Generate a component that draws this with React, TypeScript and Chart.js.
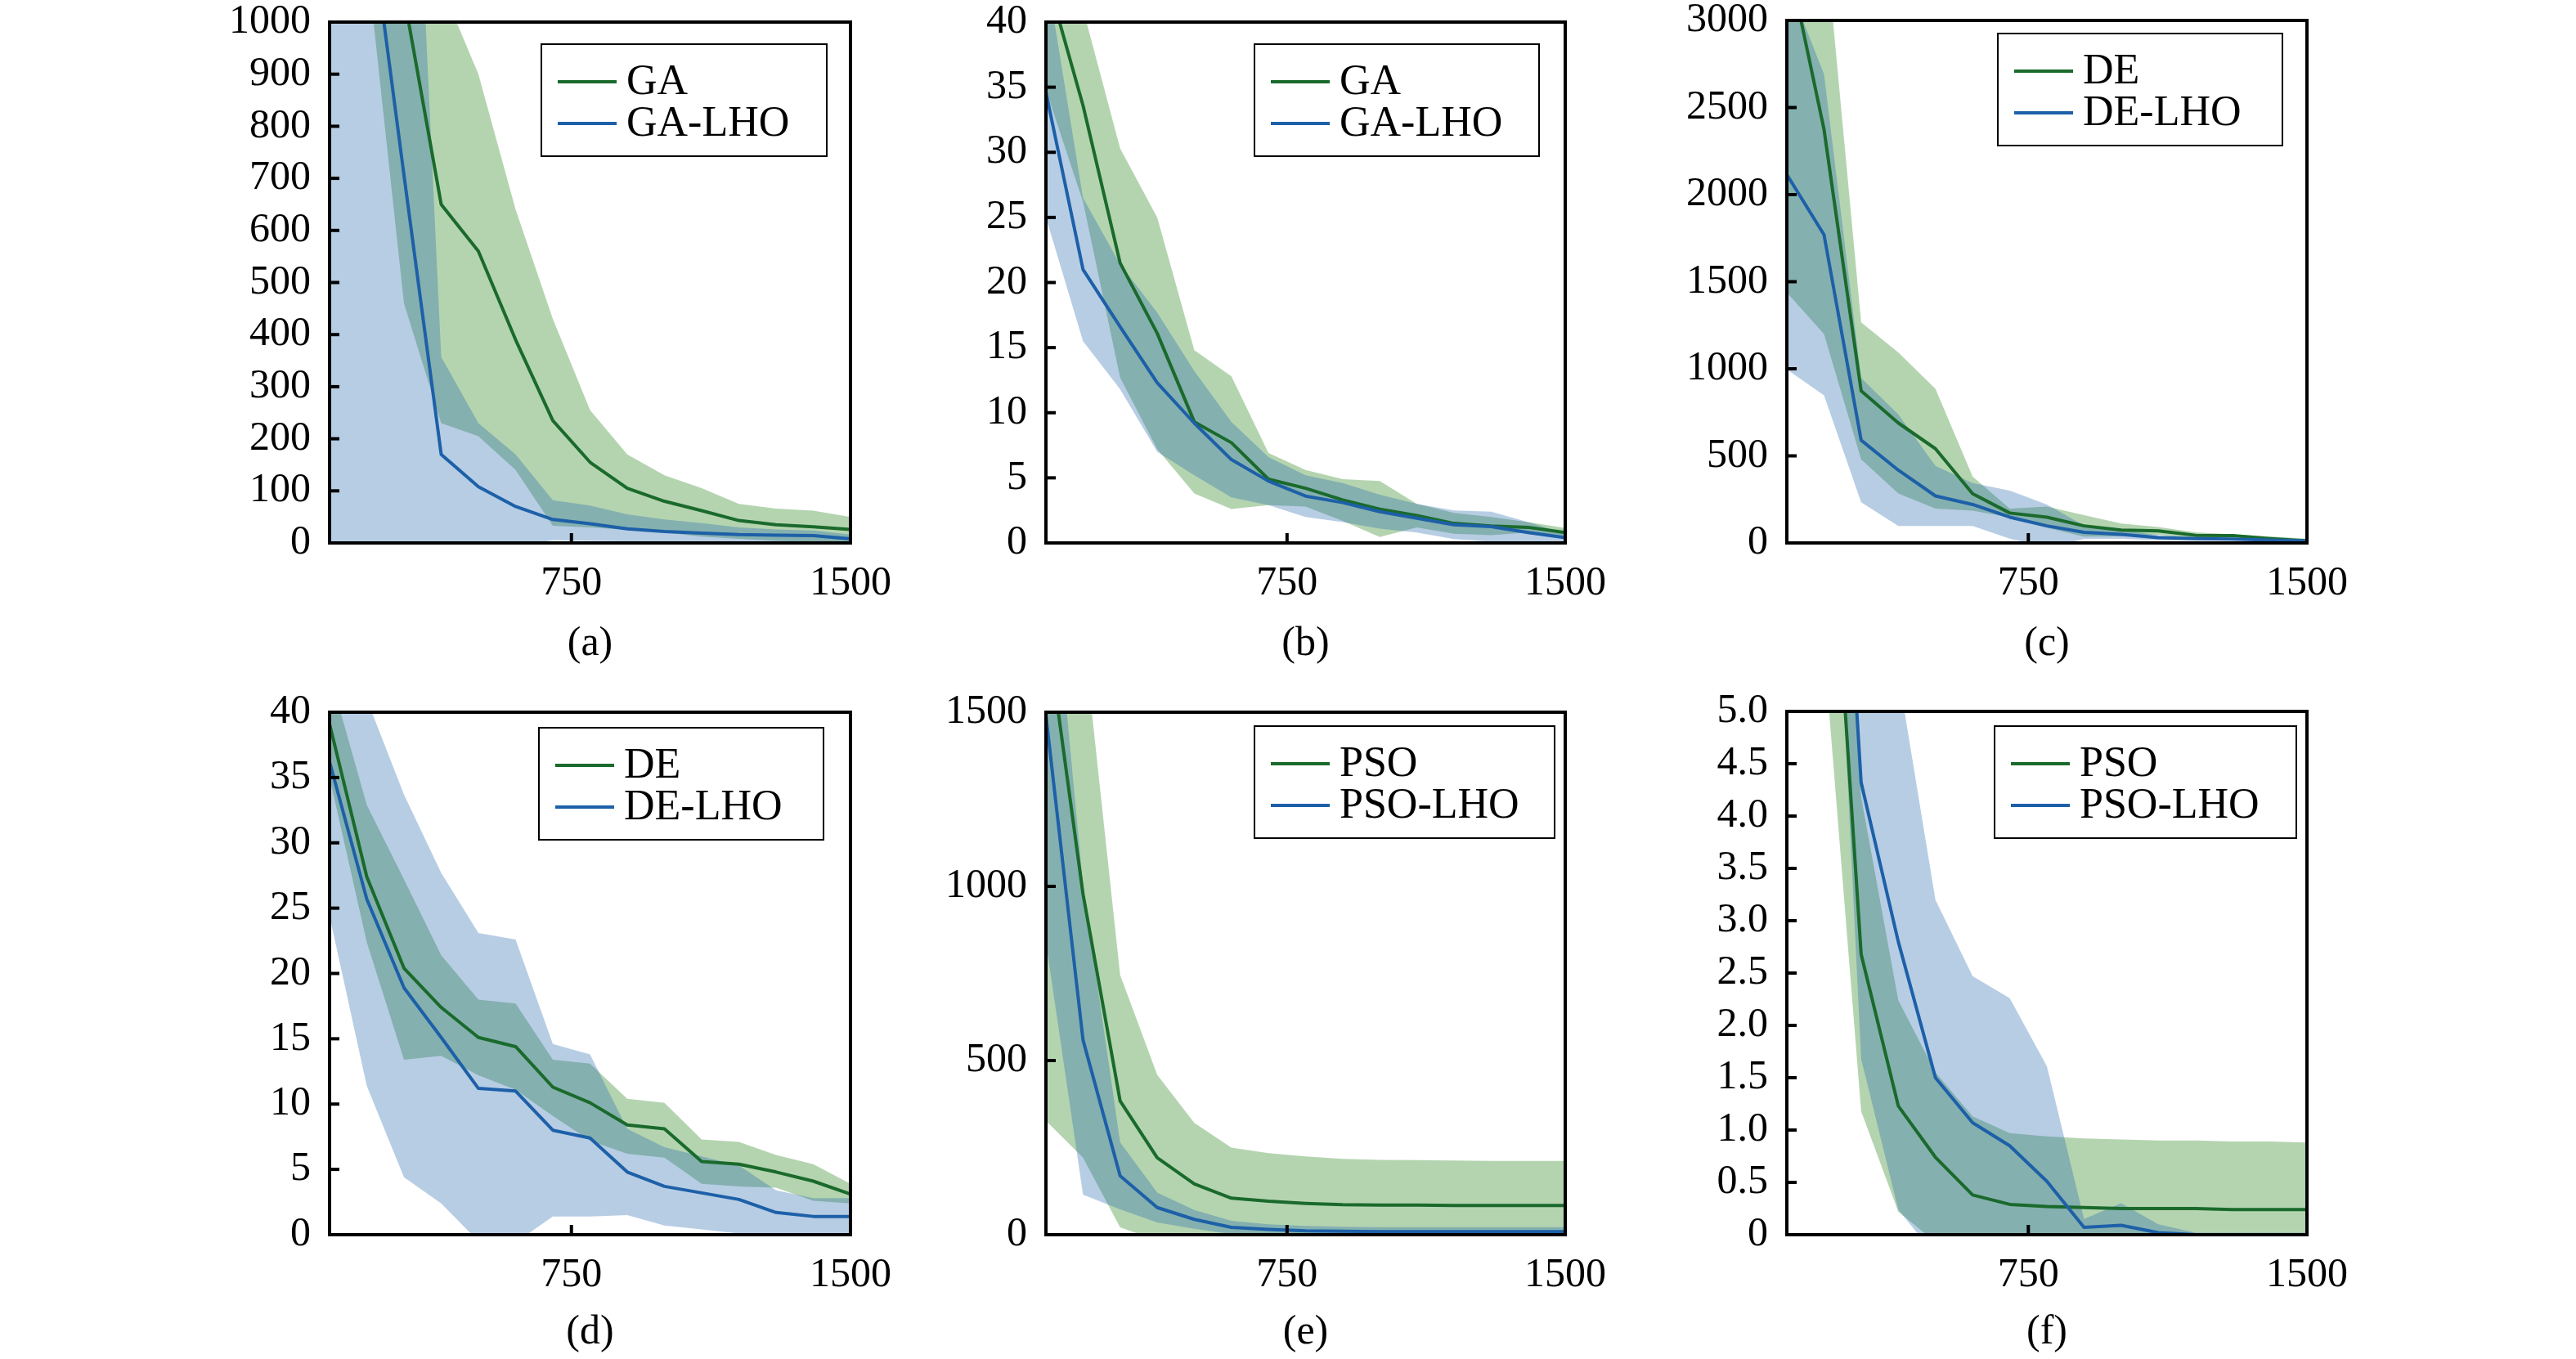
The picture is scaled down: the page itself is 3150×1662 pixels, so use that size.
import React, { useEffect, useRef } from 'react';
import { Chart, registerables } from 'chart.js';

Chart.register(...registerables);

const FONT = '"Liberation Serif", "Times New Roman", Times, serif';

// ---------- shared axis data ----------
const xSteps = [100, 200, 300, 400, 500, 600, 700, 800, 900, 1000, 1100, 1200, 1300, 1400, 1500];
const xTickValues = [750, 1500];

// ---------- (a) GA vs GA-LHO ----------
const aBaseMean = [5000, 2200, 1050, 650, 560, 390, 235, 155, 105, 80, 62, 43, 35, 31, 26];
const aBaseUpper = [8600, 3280, 1640, 1070, 900, 640, 430, 255, 170, 130, 105, 75, 66, 62, 50];
const aBaseLower = [1400, 1120, 460, 230, 205, 140, 33, 30, 25, 20, 12, 8, 4, 2, 2];
const aLhoMean = [3000, 1250, 706, 170, 108, 70, 45, 37, 27, 22, 19, 16, 15, 14, 8];
const aLhoUpper = [6000, 3000, 1890, 357, 230, 170, 82, 72, 55, 45, 38, 30, 26, 24, 16];
const aLhoLower = [-2000, -500, -480, -20, -10, -5, 5, 4, 3, 2, 1, 1, 1, 1, 0];

// ---------- (b) GA vs GA-LHO ----------
const bBaseMean = [43.7, 33.6, 21.5, 16.1, 9.3, 7.7, 4.9, 4.2, 3.3, 2.6, 2.1, 1.5, 1.3, 1.2, 0.8];
const bBaseUpper = [52.6, 41, 30.3, 25, 14.8, 12.8, 6.9, 5.6, 4.9, 4.75, 3.0, 2.3, 2.0, 1.6, 1.15];
const bBaseLower = [34.8, 26.2, 12.7, 7.2, 3.8, 2.6, 2.9, 2.8, 1.7, 0.45, 1.2, 0.7, 0.6, 0.8, 0.45];
const bLhoMean = [34.6, 21, 16.6, 12.3, 9.2, 6.4, 4.75, 3.6, 3.1, 2.4, 1.9, 1.4, 1.25, 0.8, 0.4];
const bLhoUpper = [44, 26.5, 21.4, 17.7, 13.2, 9.3, 6.6, 5.2, 4.6, 3.7, 3.0, 2.5, 2.4, 1.6, 0.7];
const bLhoLower = [25, 15.5, 11.8, 7, 5.2, 3.5, 2.9, 2.0, 1.6, 1.1, 0.8, 0.3, 0.1, 0, 0.1];

// ---------- (c) DE vs DE-LHO ----------
const cBaseMean = [3384, 2375, 873, 689, 541, 283, 172, 148, 98, 74, 69, 44, 42, 25, 12];
const cBaseUpper = [5330, 3550, 1266, 1094, 885, 381, 197, 209, 160, 111, 91, 61, 49, 37, 25];
const cBaseLower = [1438, 1200, 480, 284, 197, 185, 147, 87, 36, 37, 47, 27, 35, 13, 0];
const cLhoMean = [2115, 1770, 590, 418, 270, 221, 148, 98, 61, 49, 30, 25, 22, 17, 12];
const cLhoUpper = [3234, 2692, 947, 738, 442, 344, 300, 221, 100, 75, 45, 35, 30, 24, 17];
const cLhoLower = [996, 848, 233, 98, 98, 98, 25, -25, 22, 23, 15, 15, 14, 10, 7];

// ---------- (d) DE vs DE-LHO ----------
const dBaseMean = [39.1, 27.4, 20.4, 17.4, 15.1, 14.4, 11.3, 10.1, 8.4, 8.1, 5.6, 5.4, 4.8, 4.1, 3.1];
const dBaseUpper = [43, 32.9, 27.2, 21.4, 18.0, 17.7, 13.4, 13.1, 10.4, 10.1, 7.3, 7.1, 6.1, 5.4, 3.9];
const dBaseLower = [35, 22.4, 13.4, 13.7, 12.2, 11.1, 9.1, 7.2, 6.2, 5.9, 3.9, 3.7, 3.6, 2.6, 2.4];
const dLhoMean = [36.2, 25.7, 18.9, 15.1, 11.2, 11.0, 8.0, 7.4, 4.8, 3.7, 3.2, 2.7, 1.7, 1.4, 1.4];
const dLhoUpper = [48, 41, 33.7, 27.7, 23.1, 22.6, 14.6, 13.8, 8.1, 6.7, 6.0, 5.3, 3.4, 2.8, 2.8];
const dLhoLower = [24.4, 11.4, 4.4, 2.4, -0.5, -0.6, 1.4, 1.4, 1.5, 0.7, 0.4, 0.1, 0, 0, 0];

// ---------- (e) PSO vs PSO-LHO ----------
const eBaseMean = [1761, 978, 384, 221, 146, 105, 96, 90, 86, 85, 85, 84, 84, 84, 84];
const eBaseUpper = [3195, 1735, 746, 459, 321, 250, 234, 225, 218, 215, 214, 213, 212, 212, 212];
const eBaseLower = [327, 221, 21, -17, -29, -40, -42, -45, -46, -45, -44, -45, -44, -44, -44];
const eLhoMean = [1490, 559, 169, 78, 44, 21, 15, 11, 10, 9, 9, 9, 9, 9, 9];
const eLhoUpper = [2140, 1003, 265, 121, 71, 40, 30, 25, 23, 22, 22, 22, 22, 22, 22];
const eLhoLower = [840, 115, 73, 35, 17, 2, 0, -3, -3, -4, -4, -4, -4, -4, -4];

// ---------- (f) PSO vs PSO-LHO ----------
const fBaseMean = [30, 8.1, 2.68, 1.23, 0.74, 0.38, 0.29, 0.27, 0.26, 0.25, 0.25, 0.25, 0.24, 0.24, 0.24];
const fBaseUpper = [40, 10.6, 4.18, 2.24, 1.55, 1.13, 0.97, 0.94, 0.92, 0.91, 0.9, 0.9, 0.89, 0.89, 0.88];
const fBaseLower = [20, 5.61, 1.18, 0.22, -0.07, -0.37, -0.39, -0.4, -0.4, -0.41, -0.4, -0.4, -0.41, -0.41, -0.4];
const fLhoMean = [25, 10.1, 4.32, 2.8, 1.5, 1.07, 0.85, 0.51, 0.07, 0.09, 0.02, 0, 0, 0, 0];
const fLhoUpper = [35, 14, 6.96, 5.36, 3.2, 2.47, 2.26, 1.61, 0.15, 0.3, 0.1, 0.02, 0.02, 0.02, 0.02];
const fLhoLower = [15, 9, 1.68, 0.24, -0.2, -0.33, -0.56, -0.59, -0.01, -0.12, -0.06, -0.02, -0.02, -0.02, -0.02];

// ---------- colours ----------
const GREEN_LINE = '#1a6a2c';
const BLUE_LINE = '#1d60a8';
const GREEN_FILL = 'rgba(22,120,10,0.32)';
const BLUE_FILL = 'rgba(31,98,170,0.32)';

// ---------- layout ----------
const AXIS_W = 200;
const RIGHT_PAD = 80;
const X_AXIS_H = 100;
const TICK_FONT = 50;
const LEGEND_FONT = 52;
const CAPTION_FONT = 50;

const panels = [
  {
    caption: '(a)', names: ['GA', 'GA-LHO'], yMax: 1000, yStep: 100, decimals: 0,
    base: [aBaseMean, aBaseUpper, aBaseLower], lho: [aLhoMean, aLhoUpper, aLhoLower],
    plot: { left: 403, top: 27, right: 1040, bottom: 664 }, rowTop: 0, rowH: 830,
    legend: { right: 29, top: 27, width: 349 }, captionOffset: 124,
  },
  {
    caption: '(b)', names: ['GA', 'GA-LHO'], yMax: 40, yStep: 5, decimals: 0,
    base: [bBaseMean, bBaseUpper, bBaseLower], lho: [bLhoMean, bLhoUpper, bLhoLower],
    plot: { left: 1279, top: 27, right: 1914, bottom: 664 }, rowTop: 0, rowH: 830,
    legend: { right: 32, top: 27, width: 348 }, captionOffset: 124,
  },
  {
    caption: '(c)', names: ['DE', 'DE-LHO'], yMax: 3000, yStep: 500, decimals: 0,
    base: [cBaseMean, cBaseUpper, cBaseLower], lho: [cLhoMean, cLhoUpper, cLhoLower],
    plot: { left: 2185, top: 25, right: 2821, bottom: 664 }, rowTop: 0, rowH: 830,
    legend: { right: 30, top: 16, width: 348 }, captionOffset: 124,
  },
  {
    caption: '(d)', names: ['DE', 'DE-LHO'], yMax: 40, yStep: 5, decimals: 0,
    base: [dBaseMean, dBaseUpper, dBaseLower], lho: [dLhoMean, dLhoUpper, dLhoLower],
    plot: { left: 403, top: 871, right: 1040, bottom: 1510 }, rowTop: 830, rowH: 832,
    legend: { right: 33, top: 19, width: 348 }, captionOffset: 120,
  },
  {
    caption: '(e)', names: ['PSO', 'PSO-LHO'], yMax: 1500, yStep: 500, decimals: 0,
    base: [eBaseMean, eBaseUpper, eBaseLower], lho: [eLhoMean, eLhoUpper, eLhoLower],
    plot: { left: 1279, top: 871, right: 1914, bottom: 1510 }, rowTop: 830, rowH: 832,
    legend: { right: 13, top: 17, width: 367 }, captionOffset: 120,
  },
  {
    caption: '(f)', names: ['PSO', 'PSO-LHO'], yMax: 5, yStep: 0.5, decimals: 1,
    base: [fBaseMean, fBaseUpper, fBaseLower], lho: [fLhoMean, fLhoUpper, fLhoLower],
    plot: { left: 2185, top: 870, right: 2821, bottom: 1510 }, rowTop: 830, rowH: 832,
    legend: { right: 13, top: 18, width: 369 }, captionOffset: 120,
  },
];

const toPoints = (ys: number[]) => xSteps.map((x, i) => ({ x, y: ys[i] }));

const decorPlugin = {
  id: 'decor',
  afterDatasetsDraw(chart: any, _args: any, opts: any) {
    const { ctx, chartArea: ca, scales } = chart;
    ctx.save();
    ctx.strokeStyle = '#000';
    ctx.lineCap = 'butt';
    ctx.lineWidth = 4;
    // inward tick marks
    scales.y.ticks.forEach((t: any) => {
      const y = scales.y.getPixelForValue(t.value);
      ctx.beginPath();
      ctx.moveTo(ca.left, y);
      ctx.lineTo(ca.left + 12, y);
      ctx.stroke();
    });
    scales.x.ticks.forEach((t: any) => {
      const x = scales.x.getPixelForValue(t.value);
      ctx.beginPath();
      ctx.moveTo(x, ca.bottom);
      ctx.lineTo(x, ca.bottom - 12);
      ctx.stroke();
    });
    // frame
    ctx.strokeRect(ca.left, ca.top, ca.right - ca.left, ca.bottom - ca.top);

    // legend
    const lg = opts.legend;
    const x0 = ca.right - lg.right - lg.width;
    const y0 = ca.top + lg.top;
    const h = 137;
    ctx.fillStyle = '#fff';
    ctx.fillRect(x0, y0, lg.width, h);
    ctx.lineWidth = 2;
    ctx.strokeStyle = '#000';
    ctx.strokeRect(x0, y0, lg.width, h);
    const rows = [
      { name: opts.names[0], color: GREEN_LINE, dy: 46 },
      { name: opts.names[1], color: BLUE_LINE, dy: 97 },
    ];
    ctx.font = `${LEGEND_FONT}px ${FONT}`;
    ctx.textBaseline = 'middle';
    ctx.textAlign = 'left';
    rows.forEach((r) => {
      ctx.strokeStyle = r.color;
      ctx.lineWidth = 4;
      ctx.beginPath();
      ctx.moveTo(x0 + 20, y0 + r.dy);
      ctx.lineTo(x0 + 92, y0 + r.dy);
      ctx.stroke();
      ctx.fillStyle = '#000';
      ctx.fillText(r.name, x0 + 104, y0 + r.dy + 1);
    });

    // caption
    ctx.font = `${CAPTION_FONT}px ${FONT}`;
    ctx.textAlign = 'center';
    ctx.fillText(opts.caption, (ca.left + ca.right) / 2, ca.bottom + opts.captionOffset);
    ctx.restore();
  },
};

function Panel({ cfg }: { cfg: any }) {
  const ref = useRef<HTMLCanvasElement | null>(null);
  const plotW = cfg.plot.right - cfg.plot.left;
  const W = AXIS_W + plotW + RIGHT_PAD;
  const H = cfg.rowH;
  const left = cfg.plot.left - AXIS_W;

  useEffect(() => {
    if (!ref.current) return;
    const [bMean, bUp, bLo] = cfg.base;
    const [lMean, lUp, lLo] = cfg.lho;
    const band = (data: number[], color: string, fill: any) => ({
      data: toPoints(data),
      borderWidth: 0,
      borderColor: 'rgba(0,0,0,0)',
      backgroundColor: color,
      pointRadius: 0,
      fill,
      tension: 0,
    });
    const line = (data: number[], color: string) => ({
      data: toPoints(data),
      borderWidth: 4,
      borderColor: color,
      backgroundColor: color,
      pointRadius: 0,
      fill: false,
      tension: 0,
      borderJoinStyle: 'round',
    });
    const hiddenGrid = (len: number) => ({
      display: true,
      drawOnChartArea: false,
      drawTicks: true,
      tickLength: len,
      color: 'rgba(0,0,0,0)',
    });
    const chart = new Chart(ref.current, {
      type: 'line',
      data: {
        datasets: [
          band(lUp, BLUE_FILL, '+1'),
          band(lLo, BLUE_FILL, false),
          band(bUp, GREEN_FILL, '+1'),
          band(bLo, GREEN_FILL, false),
          line(lMean, BLUE_LINE),
          line(bMean, GREEN_LINE),
        ] as any,
      },
      options: {
        animation: false,
        responsive: false,
        devicePixelRatio: 1,
        events: [],
        layout: {
          padding: {
            left: 0,
            right: RIGHT_PAD,
            top: cfg.plot.top - cfg.rowTop,
            bottom: H - (cfg.plot.bottom - cfg.rowTop) - X_AXIS_H,
          },
        },
        scales: {
          x: {
            type: 'linear',
            min: 100,
            max: 1500,
            grid: hiddenGrid(25),
            border: { display: false },
            afterBuildTicks: (scale: any) => {
              scale.ticks = xTickValues.map((v) => ({ value: v }));
            },
            afterFit: (scale: any) => {
              scale.height = X_AXIS_H;
            },
            ticks: {
              autoSkip: false,
              maxRotation: 0,
              padding: 0,
              color: '#000',
              font: { family: FONT, size: TICK_FONT, lineHeight: 1 },
              callback: (v: any) => String(v),
            },
          },
          y: {
            type: 'linear',
            min: 0,
            max: cfg.yMax,
            grid: hiddenGrid(23),
            border: { display: false },
            afterFit: (scale: any) => {
              scale.width = AXIS_W;
            },
            ticks: {
              stepSize: cfg.yStep,
              autoSkip: false,
              padding: 0,
              color: '#000',
              font: { family: FONT, size: TICK_FONT, lineHeight: 1 },
              callback: (v: any) => {
                const n = Number(v);
                if (Math.abs(n) < 1e-9) return '0';
                return cfg.decimals ? n.toFixed(cfg.decimals) : String(Math.round(n));
              },
            },
          },
        },
        plugins: {
          legend: { display: false },
          tooltip: { enabled: false },
          filler: { drawTime: 'beforeDatasetsDraw', propagate: false },
          decor: { legend: cfg.legend, names: cfg.names, caption: cfg.caption, captionOffset: cfg.captionOffset },
        } as any,
      },
      plugins: [decorPlugin],
    } as any);
    return () => chart.destroy();
  }, []);

  return (
    <canvas
      ref={ref}
      width={W}
      height={H}
      style={{ position: 'absolute', left, top: cfg.rowTop, width: W, height: H }}
    />
  );
}

export default function App() {
  return (
    <div style={{ position: 'absolute', left: 0, top: 0, width: 3150, height: 1662, background: '#fff', overflow: 'hidden' }}>
      {panels.map((p, i) => (
        <Panel key={i} cfg={p} />
      ))}
    </div>
  );
}
